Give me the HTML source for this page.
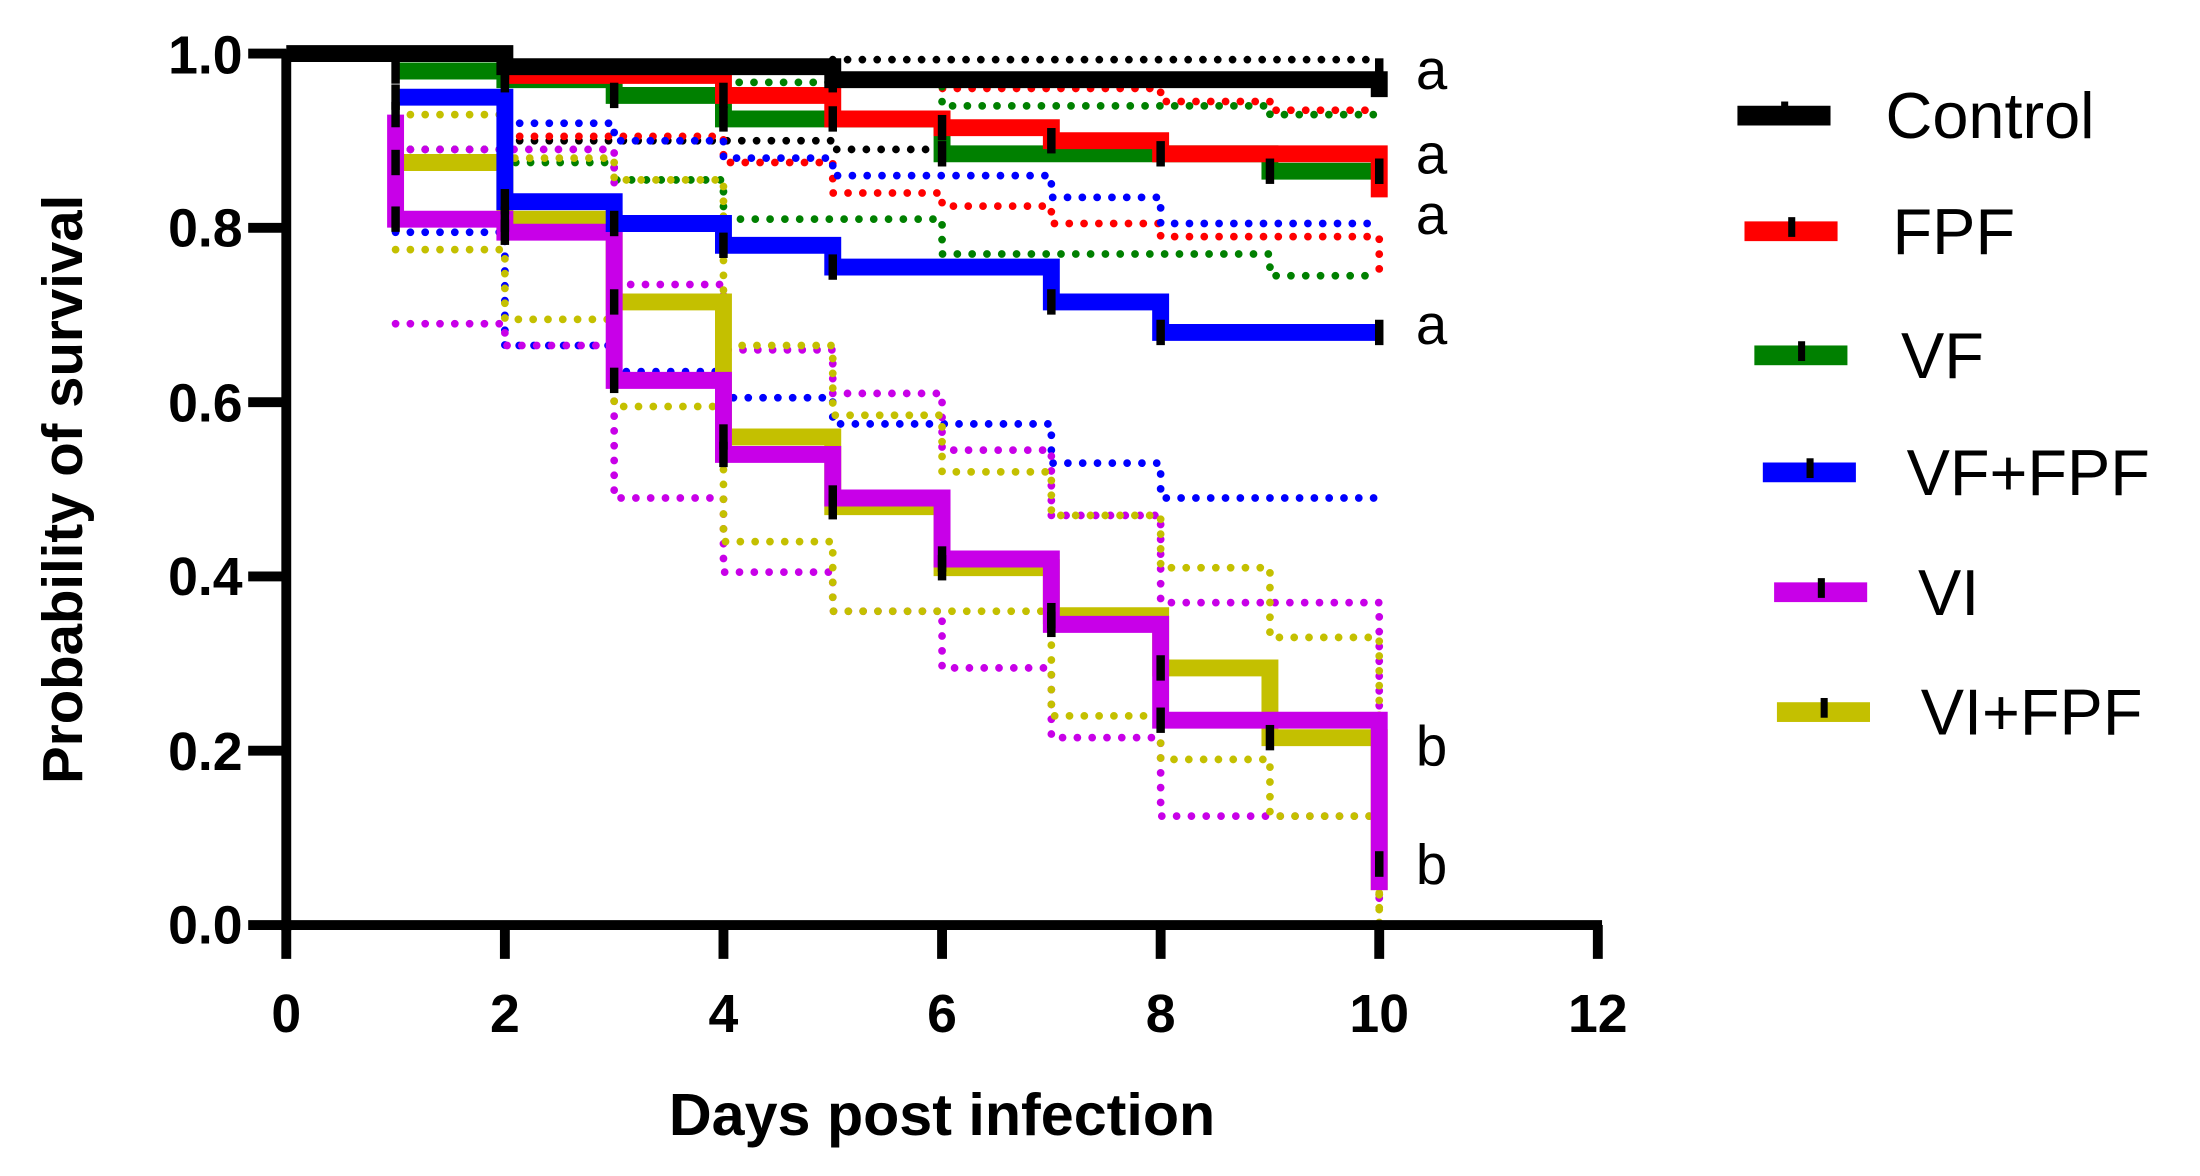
<!DOCTYPE html>
<html><head><meta charset="utf-8"><style>
html,body{margin:0;padding:0;background:#fff;}
svg{display:block;}
text{font-family:"Liberation Sans",sans-serif;}
</style></head><body>
<svg id="s" width="2200" height="1176" viewBox="0 0 1560 834" preserveAspectRatio="none" xmlns="http://www.w3.org/2000/svg">
<g id="ci" fill="none" stroke-width="5.5" stroke-linecap="round" stroke-dasharray="0 10.5"></g>
<g id="main" fill="none" stroke-width="12" stroke-linejoin="miter" stroke-linecap="butt"></g>
<g id="ticks" fill="#000"></g>
<g stroke="#000" stroke-width="7" fill="none">
<line x1="203" y1="35" x2="203" y2="660"/>
<line x1="200" y1="656" x2="1136" y2="656"/>
<line x1="176" y1="38" x2="203" y2="38"/>
<line x1="176" y1="161.6" x2="203" y2="161.6"/>
<line x1="176" y1="285.2" x2="203" y2="285.2"/>
<line x1="176" y1="408.8" x2="203" y2="408.8"/>
<line x1="176" y1="532.4" x2="203" y2="532.4"/>
<line x1="176" y1="656" x2="203" y2="656"/>
</g>
<g id="xt" stroke="#000" stroke-width="7"></g>
<g font-size="38" font-weight="bold" text-anchor="end" fill="#000">
<text x="172" y="52">1.0</text>
<text x="172" y="175">0.8</text>
<text x="172" y="299">0.6</text>
<text x="172" y="422">0.4</text>
<text x="172" y="546">0.2</text>
<text x="172" y="669">0.0</text>
</g>
<g id="xl" font-size="38" font-weight="bold" text-anchor="middle" fill="#000"></g>
<text x="668" y="805" font-size="42" font-weight="bold" text-anchor="middle">Days post infection</text>
<text transform="translate(58,347) rotate(-90)" font-size="40" font-weight="bold" text-anchor="middle">Probability of survival</text>
<g font-size="40" fill="#000">
<text x="1004" y="63">a</text>
<text x="1004" y="123">a</text>
<text x="1004" y="166">a</text>
<text x="1004" y="244">a</text>
<text x="1004" y="543">b</text>
<text x="1004" y="627">b</text>
</g>
<g id="leg" font-size="46" fill="#000"></g>
</svg>
<script>
const NS="http://www.w3.org/2000/svg";
const X=d=>203+d*77.5, Y=v=>656-v*618;
function el(p,t,a){const e=document.createElementNS(NS,t);for(const k in a)e.setAttribute(k,a[k]);document.getElementById(p).appendChild(e);return e;}
for(let d=0;d<=12;d+=2){el('xt','line',{x1:X(d),y1:656,x2:X(d),y2:680});const t=el('xl','text',{x:X(d),y:732});t.textContent=d;}
function step(pts,end,endV){let s="";pts.forEach((p,i)=>{if(i==0)s+=`M${X(p[0])},${Y(p[1])}`;else s+=` L${X(p[0])},${Y(pts[i-1][1])} L${X(p[0])},${Y(p[1])}`;});s+=` L${X(end)},${Y(pts[pts.length-1][1])}`;if(endV!==undefined)s+=` L${X(end)},${Y(endV)}`;return s;}
const ci=[
['#000',[[5,0.993]],10],
['#000',[[2,0.90],[5,0.89]],10],
['red',[[2,0.905],[4,0.875],[5,0.84],[6,0.825],[7,0.805],[8,0.79]],10,0.74],
['red',[[5,0.97],[6,0.96],[8,0.945],[9,0.935]],10],
['green',[[2,0.97],[4,0.967],[6,0.94],[9,0.93]],10],
['green',[[1,0.89],[2,0.875],[3,0.855],[4,0.81],[6,0.77],[9,0.745]],10],
['blue',[[2,0.92],[3,0.90],[4,0.88],[5,0.86],[7,0.835],[8,0.805]],10],
['blue',[[1,0.795],[2,0.665],[3,0.635],[4,0.605],[5,0.575],[7,0.53],[8,0.49]],10],
['#c800e8',[[1,0.89],[3,0.735],[4,0.66],[5,0.61],[6,0.545],[7,0.47],[8,0.37]],10,0.03],
['#c800e8',[[1,0.69],[2,0.665],[3,0.49],[4,0.405],[5,0.36],[6,0.295],[7,0.215],[8,0.125]],10,0.03],
['#c4c000',[[1,0.93],[2,0.88],[3,0.855],[4,0.665],[5,0.585],[6,0.52],[7,0.47],[8,0.41],[9,0.33]],10,0.0],
['#c4c000',[[1,0.775],[2,0.695],[3,0.595],[4,0.44],[5,0.36],[7,0.24],[8,0.19],[9,0.125]],10,0.0],
];
ci.forEach(c=>el('ci','path',{d:step(c[1],c[2],c[3]),stroke:c[0]}));
const main=[
['#c4c000',[[1,0.875],[2,0.81],[3,0.715],[4,0.56],[5,0.48],[6,0.41],[7,0.355],[8,0.295],[9,0.215]],10,0.04],
['#c800e8',[[1,0.93],[1,0.81],[2,0.795],[3,0.625],[4,0.54],[5,0.49],[6,0.42],[7,0.345],[8,0.235]],10,0.04],
['blue',[[1,0.95],[2,0.83],[3,0.805],[4,0.78],[5,0.755],[7,0.715],[8,0.68]],10],
['green',[[1,0.98],[2,0.97],[3,0.952],[4,0.925],[6,0.885],[9,0.865]],10],
['red',[[2,0.975],[4,0.952],[5,0.925],[6,0.915],[7,0.9],[8,0.885]],10,0.835],
['#000',[[0,1.0],[2,0.985],[5,0.97]],10,0.95],
];
main.forEach(c=>{el('main','path',{d:step(c[1],c[2],c[3]),stroke:c[0]});c[1].forEach(p=>{if(p[0]>0)el('ticks','rect',{x:X(p[0])-3,y:Y(p[1])-9,width:6,height:18});});el('ticks','rect',{x:X(10)-3,y:Y(c[3]!==undefined?c[3]+0.03:c[1][c[1].length-1][1])-9,width:6,height:18});});
const leg=[['#000',1232,82,'Control',1337],['red',1237,164,'FPF',1342],['green',1244,252,'VF',1348],['blue',1250,335,'VF+FPF',1352],['#c800e8',1258,420,'VI',1360],['#c4c000',1260,505,'VI+FPF',1362]];
leg.forEach(l=>{el('leg','rect',{x:l[1],y:l[2]-7,width:66,height:14,fill:l[0]});el('leg','rect',{x:l[1]+31,y:l[2]-10,width:5,height:14,fill:'#000'});const t=el('leg','text',{x:l[4],y:l[2]+16});t.textContent=l[3];});
</script>
</body></html>
